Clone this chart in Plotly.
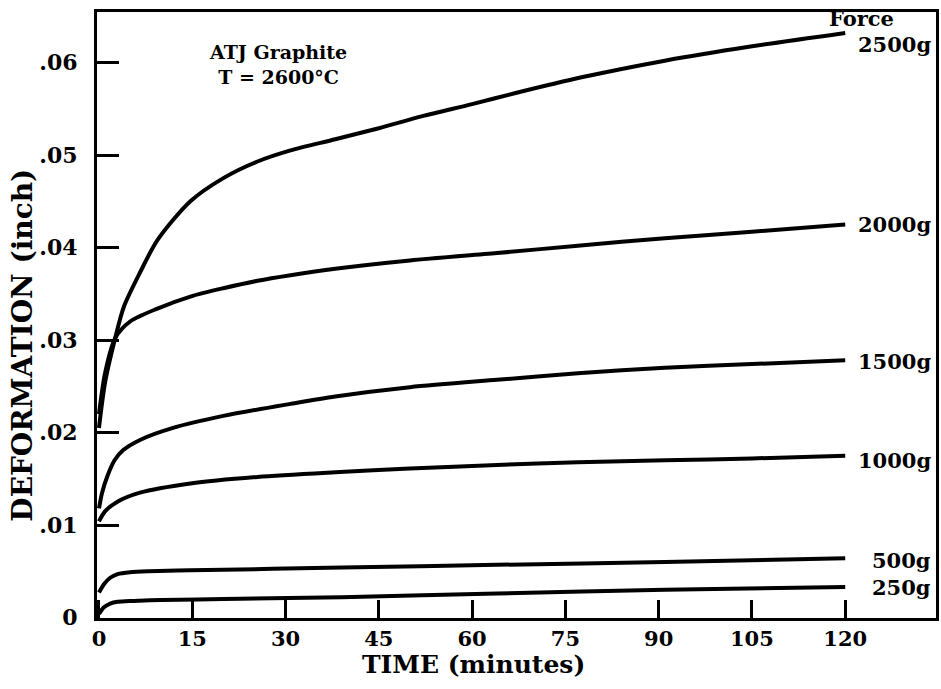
import plotly.graph_objects as go

# ---- data ----
t_2500 = [0, 1, 2.6, 4, 6.6, 9.4, 14.7, 20, 25.5, 30.8, 38, 45, 52, 60, 67, 77.6, 91, 104.5, 120]
d_2500 = [0.0205, 0.0255, 0.0302, 0.0336, 0.0373, 0.0408, 0.0450, 0.0475, 0.0493, 0.0505, 0.0517, 0.0529, 0.0542, 0.0555, 0.0567, 0.0584, 0.0602, 0.0617, 0.0632]

t_2000 = [0, 1, 2.6, 5, 9.4, 14.7, 20, 25.5, 30.8, 38, 50, 64, 77, 91, 105, 120]
d_2000 = [0.022, 0.0265, 0.0302, 0.0320, 0.0334, 0.0347, 0.0356, 0.0364, 0.037, 0.0377, 0.0386, 0.0394, 0.0402, 0.041, 0.0417, 0.0425]

t_1500 = [0, 0.5, 1.3, 2.5, 3.9, 6.6, 11.9, 20, 30.8, 38, 50, 64, 77, 91, 105, 120]
d_1500 = [0.0118, 0.0135, 0.0152, 0.0170, 0.0181, 0.0192, 0.0205, 0.0218, 0.0231, 0.0239, 0.0249, 0.0257, 0.0264, 0.027, 0.0274, 0.0278]

t_1000 = [0, 1, 2.9, 6.6, 14.7, 25.5, 38, 50, 64, 77, 91, 105, 120]
d_1000 = [0.0104, 0.0115, 0.0125, 0.0135, 0.0145, 0.0152, 0.0157, 0.0161, 0.0165, 0.0168, 0.017, 0.0172, 0.0175]

t_500 = [0, 0.8, 1.8, 3, 5, 8, 14.7, 39, 64, 91, 120]
d_500 = [0.0027, 0.0036, 0.0043, 0.0047, 0.0049, 0.005, 0.0051, 0.0054, 0.0057, 0.006, 0.0064]

t_250 = [0, 0.8, 1.8, 3, 5.5, 10, 20, 39, 64, 91, 120]
d_250 = [0.0004, 0.0011, 0.0015, 0.0017, 0.0018, 0.0019, 0.002, 0.0022, 0.0026, 0.0030, 0.0033]

force_labels = ["2500g", "2000g", "1500g", "1000g", "500g", "250g"]
label_y = [0.0620, 0.0425, 0.0277, 0.0170, 0.0062, 0.0033]

x_ticks = [0, 15, 30, 45, 60, 75, 90, 105, 120]
y_ticks = [0, 0.01, 0.02, 0.03, 0.04, 0.05, 0.06]
y_ticktext = ["0", ".01", ".02", ".03", ".04", ".05", ".06"]

FONT = "DejaVu Serif"

series = [(t_2500, d_2500), (t_2000, d_2000), (t_1500, d_1500),
          (t_1000, d_1000), (t_500, d_500), (t_250, d_250)]

fig = go.Figure()
for (t, d), name in zip(series, force_labels):
    fig.add_trace(go.Scatter(x=t, y=d, mode="lines", name=name,
                             line=dict(color="black", width=4, shape="spline", smoothing=0.8),
                             showlegend=False))

for name, yv in zip(force_labels, label_y):
    fig.add_annotation(x=0.996, y=yv, xref="paper", yref="y", text="<b>%s</b>" % name, showarrow=False,
                       xanchor="right", yanchor="middle",
                       font=dict(family=FONT, size=21, color="black"))

fig.add_annotation(x=122.6, y=0.0648, xref="x", yref="y", text="<b>Force</b>", showarrow=False,
                   xanchor="center", yanchor="middle",
                   font=dict(family=FONT, size=21, color="black"))

fig.add_annotation(x=28.8, y=0.0598, xref="x", yref="y",
                   text="<b>ATJ Graphite<br>T = 2600°C</b>", showarrow=False,
                   xanchor="center", yanchor="middle", align="center",
                   font=dict(family=FONT, size=19, color="black"))

fig.add_annotation(x=-0.089, y=0.45, xref="paper", yref="paper",
                   text="<b>DEFORMATION (inch)</b>", showarrow=False, textangle=-90,
                   xanchor="center", yanchor="middle",
                   font=dict(family=FONT, size=28, color="black"))

fig.add_annotation(x=60.3, y=-0.076, xref="x", yref="paper",
                   text="<b>TIME (minutes)</b>", showarrow=False,
                   xanchor="center", yanchor="middle",
                   font=dict(family=FONT, size=25, color="black"))

fig.update_layout(
    width=941, height=689,
    margin=dict(l=97, r=2, t=12, b=71),
    paper_bgcolor="white", plot_bgcolor="white",
    font=dict(family=FONT, color="black"),
)

fig.update_xaxes(range=[-0.32, 134.6], tickvals=x_ticks, ticks="inside", ticklen=18, tickwidth=3,
                 tickcolor="black", showline=True, linewidth=3, linecolor="black", mirror=True,
                 showgrid=False, zeroline=False,
                 tickfont=dict(family=FONT, size=21, weight="bold"))
fig.update_yaxes(range=[-0.00005, 0.06546], tickvals=y_ticks, ticktext=y_ticktext, ticks="inside",
                 ticklen=22, tickwidth=3, tickcolor="black", showline=True, linewidth=3,
                 linecolor="black", mirror=True, showgrid=False, zeroline=False,
                 tickfont=dict(family=FONT, size=22, weight="bold"), ticklabelstandoff=12)

fig.write_html("out.html")
